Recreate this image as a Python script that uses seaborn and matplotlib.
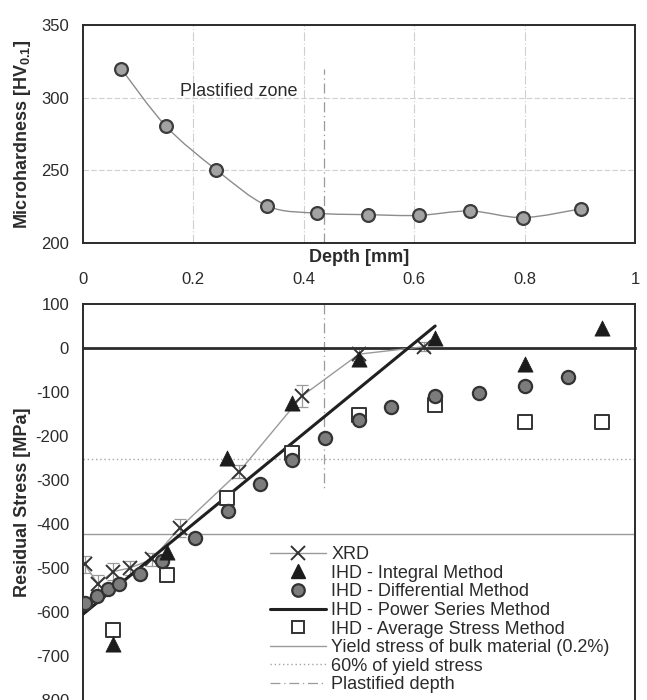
import numpy as np
import pandas as pd
import matplotlib.pyplot as plt
import seaborn as sns
from matplotlib.path import Path
from matplotlib.patches import PathPatch
from matplotlib.lines import Line2D
from matplotlib.ticker import MultipleLocator

# -------------------------------
# Data
# -------------------------------

# Microhardness profile (top panel)
hv_depth = [0.069, 0.150, 0.241, 0.334, 0.424, 0.516, 0.608, 0.701, 0.797, 0.902]
hv_value = [320, 280.5, 250.5, 225.5, 220.5, 219.5, 219, 222, 217.5, 223.5]

# XRD residual stress with error bars
xrd_depth = [0.003, 0.027, 0.055, 0.085, 0.125, 0.175, 0.283, 0.397, 0.500, 0.618]
xrd_stress = [-492, -536, -508, -500, -480, -409, -281, -109, -14, 3]
xrd_err = [20, 20, 20, 15, 15, 20, 15, 25, 15, 10]

# IHD - Integral method
int_depth = [0.055, 0.152, 0.261, 0.378, 0.500, 0.638, 0.800, 0.940]
int_stress = [-672, -464, -249, -124, -25, 22, -36, 45]

# IHD - Differential method
diff_depth = [0.004, 0.025, 0.045, 0.065, 0.103, 0.144, 0.202, 0.262, 0.320, 0.378,
              0.438, 0.500, 0.558, 0.638, 0.717, 0.800, 0.879]
diff_stress = [-580, -563, -548, -536, -513, -484, -431, -371, -308, -255,
               -204, -163, -133, -110, -103, -87, -67]

# IHD - Power series method (straight fit)
ps_depth = [0.0, 0.638]
ps_stress = [-605, 50]

# IHD - Average stress method
avg_depth = [0.055, 0.152, 0.261, 0.378, 0.500, 0.638, 0.800, 0.940]
avg_stress = [-642, -515, -340, -238, -152, -129, -168, -168]

yield_stress = -422
yield_60 = -253
plastified_depth = 0.437

depth_ticks = [0, 0.2, 0.4, 0.6, 0.8, 1]
depth_tick_labels = ['0', '0.2', '0.4', '0.6', '0.8', '1']
hv_ticks = [200, 250, 300, 350]
rs_ticks = [100, 0, -100, -200, -300, -400, -500, -600, -700, -800]

# -------------------------------
# Style
# -------------------------------
sns.set_theme(style="white")
plt.rcParams['font.family'] = ['Liberation Sans', 'DejaVu Sans']
plt.rcParams['axes.unicode_minus'] = False
plt.rcParams['mathtext.fontset'] = 'custom'
plt.rcParams['mathtext.rm'] = 'Liberation Sans'
plt.rcParams['mathtext.bf'] = 'Liberation Sans:bold'

ink = '#2b2b2b'
fig = plt.figure(figsize=(6.47, 7.0), dpi=100)
ax1 = fig.add_axes([83 / 647, 1 - 243 / 700, 552 / 647, 218 / 700])
ax2 = fig.add_axes([83 / 647, 0.0, 552 / 647, 396 / 700])


def smooth_path(xs, ys):
    # Excel-like smoothed line: Catmull-Rom segments drawn as cubic Bezier curves
    pts = np.column_stack([xs, ys]).astype(float)
    ext = np.vstack([pts[0], pts, pts[-1]])
    verts = [pts[0]]
    codes = [Path.MOVETO]
    for i in range(1, len(ext) - 2):
        p0, p1, p2, p3 = ext[i - 1], ext[i], ext[i + 1], ext[i + 2]
        verts += [p1 + (p2 - p0) / 6, p2 - (p3 - p1) / 6, p2]
        codes += [Path.CURVE4] * 3
    return Path(verts, codes)


# -------------------------------
# Top panel: microhardness
# -------------------------------
ax1.add_patch(PathPatch(smooth_path(hv_depth, hv_value), fill=False,
                        edgecolor='#8c8c8c', lw=1.0, zorder=2))
sns.scatterplot(x=hv_depth, y=hv_value, ax=ax1, s=85, color='#a3a3a3',
                edgecolor='#3c3c3c', linewidth=1.6, zorder=3)
ax1.plot([plastified_depth, plastified_depth], [200, 320], color='#9a9a9a', lw=0.9,
         ls=(0, (8, 3, 1, 3)), zorder=1)
ax1.text(0.176, 304, 'Plastified zone', fontsize=13, color=ink, va='center')

ax1.set_xlim(0, 1)
ax1.set_ylim(200, 350)
ax1.set_xticks(depth_ticks, depth_tick_labels)
ax1.set_yticks(hv_ticks)
ax1.xaxis.set_minor_locator(MultipleLocator(0.04))
ax1.yaxis.set_minor_locator(MultipleLocator(10))
ax1.grid(axis='y', which='major', color='#cfcfcf', lw=0.8, ls=(0, (5, 2)))
ax1.grid(axis='x', which='major', color='#cfcfcf', lw=0.8, ls=(0, (8, 2, 1, 2)))
ax1.tick_params(axis='both', which='both', direction='in', colors=ink, labelsize=12)
ax1.tick_params(axis='x', which='both', length=5, pad=21, top=False)
ax1.tick_params(axis='y', which='both', length=4, pad=10, right=False)
ax1.set_xlabel('Depth [mm]', fontsize=13, fontweight='bold', color=ink)
ax1.xaxis.set_label_coords(0.5, -14 / 218)
ax1.xaxis.label.set_va('center')
ax1.set_ylabel(r'Microhardness [HV$_{\mathbf{0.1}}$]', fontsize=13,
               fontweight='bold', color=ink)
ax1.yaxis.set_label_coords(-60 / 552, 0.5)
ax1.yaxis.label.set_va('center')
for sp in ax1.spines.values():
    sp.set_color(ink)
    sp.set_linewidth(1.4)

# -------------------------------
# Bottom panel: residual stress
# -------------------------------
ax2.axhline(yield_stress, color='#9a9a9a', lw=1.0, zorder=1)
ax2.axhline(yield_60, color='#a5a5a5', lw=1.0, ls=(0, (1, 2)), zorder=1)
ax2.plot([plastified_depth, plastified_depth], [100, -318], color='#9a9a9a', lw=0.9,
         ls=(0, (8, 3, 1, 3)), zorder=1)

ax2.errorbar(xrd_depth, xrd_stress, yerr=xrd_err, fmt='none', ecolor='#9a9a9a',
             elinewidth=0.9, capsize=4, capthick=0.9, zorder=2)
sns.lineplot(x=xrd_depth, y=xrd_stress, ax=ax2, sort=False, color='#9a9a9a', lw=1.0,
             marker='x', markersize=10, markeredgewidth=1.4, markeredgecolor='#333333',
             zorder=3)
sns.lineplot(x=ps_depth, y=ps_stress, ax=ax2, color='#202020', lw=2.2, zorder=4)
sns.scatterplot(x=avg_depth, y=avg_stress, ax=ax2, marker='s', s=95, color='white',
                edgecolor='#333333', linewidth=1.4, zorder=5)
sns.scatterplot(x=diff_depth, y=diff_stress, ax=ax2, s=90, color='#7c7c7c',
                edgecolor='#333333', linewidth=1.6, zorder=6)
sns.scatterplot(x=int_depth, y=int_stress, ax=ax2, marker='^', s=120, color='#1c1c1c',
                edgecolor='#1c1c1c', linewidth=0.5, zorder=7)

ax2.set_xlim(0, 1)
ax2.set_ylim(-800, 100)
ax2.set_yticks(rs_ticks)
ax2.xaxis.set_major_locator(MultipleLocator(0.2))
ax2.xaxis.set_minor_locator(MultipleLocator(0.04))
ax2.yaxis.set_minor_locator(MultipleLocator(50))
ax2.spines['bottom'].set_position(('data', 0))
for sp in ax2.spines.values():
    sp.set_color(ink)
    sp.set_linewidth(1.4)
ax2.spines['bottom'].set_linewidth(2.0)
ax2.tick_params(axis='x', which='both', direction='inout', length=9, width=1.2,
                colors=ink, labelbottom=False, top=False)
ax2.tick_params(axis='y', which='both', direction='in', length=4, colors=ink,
                labelsize=12, pad=10, right=False)
ax2.set_ylabel('Residual Stress [MPa]', fontsize=13, fontweight='bold', color=ink)
ax2.yaxis.set_label_coords(-60 / 552, 0.5)
ax2.yaxis.label.set_va('center')

handles = [
    Line2D([], [], color='#9a9a9a', lw=1.0, marker='x', markersize=10,
           markeredgewidth=1.4, markeredgecolor='#333333'),
    Line2D([], [], ls='none', marker='^', markersize=10, color='#1c1c1c'),
    Line2D([], [], ls='none', marker='o', markersize=9, markerfacecolor='#7c7c7c',
           markeredgecolor='#333333', markeredgewidth=1.6),
    Line2D([], [], color='#202020', lw=2.2),
    Line2D([], [], ls='none', marker='s', markersize=9, markerfacecolor='white',
           markeredgecolor='#333333', markeredgewidth=1.4),
    Line2D([], [], color='#9a9a9a', lw=1.0),
    Line2D([], [], color='#a5a5a5', lw=1.0, ls=(0, (1, 2))),
    Line2D([], [], color='#9a9a9a', lw=0.9, ls=(0, (8, 3, 1, 3))),
]
labels = ['XRD', 'IHD - Integral Method', 'IHD - Differential Method',
          'IHD - Power Series Method', 'IHD - Average Stress Method',
          'Yield stress of bulk material (0.2%)', '60% of yield stress',
          'Plastified depth']
leg = ax2.legend(handles, labels, loc='upper left', bbox_to_anchor=(187 / 552, 154 / 396),
                 frameon=False, fontsize=13, handlelength=3.1, handletextpad=0.3,
                 labelspacing=0.09, borderpad=0, borderaxespad=0)
for t in leg.get_texts():
    t.set_color(ink)

fig.savefig('out.png', dpi=100, facecolor='white')
